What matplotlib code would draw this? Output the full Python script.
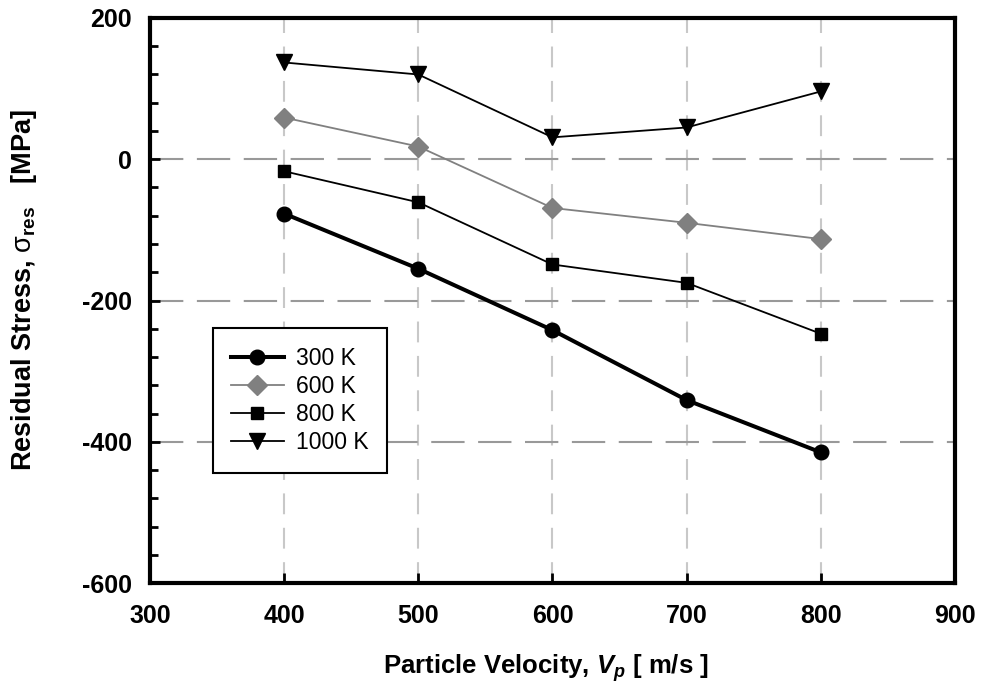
import numpy as np
import matplotlib
matplotlib.use("Agg")
import matplotlib.pyplot as plt
from matplotlib.ticker import MultipleLocator

plt.rcParams["font.family"] = ["Liberation Sans", "DejaVu Sans"]
plt.rcParams["font.weight"] = "bold"
plt.rcParams["axes.unicode_minus"] = False
plt.rcParams["mathtext.fontset"] = "custom"
plt.rcParams["mathtext.rm"] = "Liberation Sans:weight=normal"
plt.rcParams["mathtext.it"] = "Liberation Sans:style=italic:weight=bold"
plt.rcParams["mathtext.bf"] = "Liberation Sans:weight=bold"

# particle velocity [m/s]
velocity = [400, 500, 600, 700, 800]

# residual stress [MPa] per substrate temperature
stress_300 = [-77, -155, -242, -341, -415]
stress_600 = [59, 18, -69, -90, -113]
stress_800 = [-17, -61, -149, -175, -247]
stress_1000 = [137, 120, 31, 45, 96]

fig = plt.figure(figsize=(9.83, 6.89), dpi=100)
ax = fig.add_axes([0.1526, 0.1538, 0.8189, 0.8201])

ax.plot(velocity, stress_300, color="black", lw=2.9, marker="o", ms=10.5, label="300 K")
ax.plot(velocity, stress_600, color="#808080", lw=1.3, marker="D", ms=10, label="600 K")
ax.plot(velocity, stress_800, color="black", lw=1.3, marker="s", ms=9, label="800 K")
ax.plot(velocity, stress_1000, color="black", lw=1.3, marker="v", ms=11.5, label="1000 K")

ax.set_xlim(300, 900)
ax.set_ylim(-600, 200)
ax.xaxis.set_major_locator(MultipleLocator(100))
ax.yaxis.set_major_locator(MultipleLocator(200))
ax.yaxis.set_minor_locator(MultipleLocator(40))

for x in range(400, 900, 100):
    ax.axvline(x, color="#c8c8c8", lw=1.5, ls=(0, (10, 6.5)), zorder=0)
for y in (0, -200, -400):
    ax.axhline(y, color="#999999", lw=1.5, ls=(0, (16, 6.5)), zorder=0)

ax.tick_params(which="both", direction="in", width=2, labelsize=18)
ax.tick_params(axis="y", pad=13)
ax.tick_params(axis="x", pad=15)
ax.tick_params(which="major", length=7)
ax.tick_params(which="minor", length=5.5)
for lbl in ax.get_xticklabels() + ax.get_yticklabels():
    lbl.set_fontweight("bold")
for s in ax.spines.values():
    s.set_linewidth(3)

ax.set_xlabel(r"Particle Velocity, $V_p$ [ m/s ]", fontsize=18.5, fontweight="bold")
ax.set_ylabel(r"Residual Stress, $\mathrm{\sigma}_{\mathbf{res}}$   [MPa]", fontsize=19.5,
              fontweight="bold")
ax.xaxis.set_label_coords(0.492, -0.122)
ax.yaxis.set_label_coords(-0.138, 0.519)

leg = ax.legend(loc="upper left", bbox_to_anchor=(0.078, 0.451), fontsize=16.5,
                frameon=True, fancybox=False, edgecolor="black", handlelength=2.3,
                labelspacing=0.23, borderpad=0.8, handletextpad=0.55,
                borderaxespad=0, framealpha=1)
leg.get_frame().set_linewidth(1.5)
for t in leg.get_texts():
    t.set_fontweight("normal")

fig.savefig("out.png", dpi=100)
